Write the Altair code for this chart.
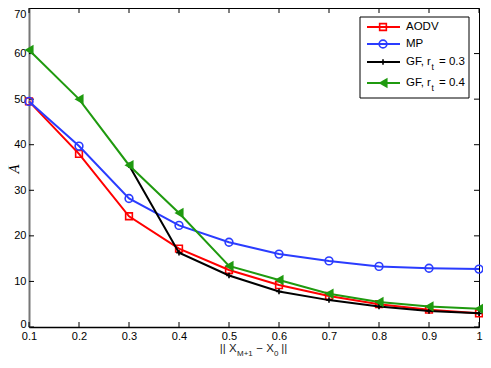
import altair as alt
import pandas as pd

x_vals = [0.1, 0.2, 0.3, 0.4, 0.5, 0.6, 0.7, 0.8, 0.9, 1.0]
aodv = [49.5, 38.0, 24.3, 17.2, 12.5, 9.2, 6.8, 5.0, 3.8, 3.0]
mp = [49.5, 39.7, 28.2, 22.3, 18.6, 16.0, 14.5, 13.3, 12.9, 12.7]
gf03_x = [0.3, 0.4, 0.5, 0.6, 0.7, 0.8, 0.9, 1.0]
gf03 = [35.5, 16.3, 11.3, 7.8, 5.9, 4.5, 3.5, 3.0]
gf04 = [60.8, 50.0, 35.5, 25.0, 13.4, 10.3, 7.3, 5.5, 4.5, 4.0]
y_ticks = [0, 10, 20, 30, 40, 50, 60, 70]

RED, BLUE, BLACK, GREEN = "#ff0000", "#2a3cff", "#000000", "#1f9a0f"
PLUS = "M-1,0H1M0,-1V1"
W, H = 450, 319
FONT = "Liberation Sans"

xs = alt.Scale(domain=[0.1, 1.0], nice=False, zero=False)
ys = alt.Scale(domain=[0, 70], nice=False)


def series(xv, yv, color, shape, filled, size):
    df = pd.DataFrame({"x": xv, "y": yv})
    base = alt.Chart(df)
    line = base.mark_line(color=color, strokeWidth=2, clip=False).encode(
        x=alt.X("x:Q", scale=xs), y=alt.Y("y:Q", scale=ys))
    pts = base.mark_point(shape=shape, filled=filled, color=color, size=size,
                          strokeWidth=1.6, opacity=1).encode(
        x=alt.X("x:Q", scale=xs), y=alt.Y("y:Q", scale=ys))
    return line + pts


xt = pd.DataFrame({"x": x_vals})
yt = pd.DataFrame({"y": y_ticks})

axes = alt.Chart(xt).mark_point(opacity=0).encode(
    x=alt.X("x:Q", scale=xs,
            axis=alt.Axis(values=x_vals, tickSize=0, labelPadding=3, grid=False,
                          labelFlush=False,
                          labelExpr="datum.value >= 0.99 ? '1' : format(datum.value, '.1f')",
                          title=None, domainColor="#000", domainWidth=1.5)),
    y=alt.value(0),
)
yaxis = alt.Chart(yt).mark_point(opacity=0).encode(
    y=alt.Y("y:Q", scale=ys,
            axis=alt.Axis(values=y_ticks, tickSize=0, labelPadding=3, grid=False,
                          labelFlush=False,
                          labelBaseline={"condition": [
                              {"test": "datum.value >= 70", "value": "top"},
                              {"test": "datum.value <= 0", "value": "alphabetic"}],
                              "value": "middle"},
                          title="Ā", titleFontStyle="italic", titleFont="DejaVu Serif",
                          titleFontSize=13, titleFontWeight="normal", titleAngle=-90,
                          titleX=-15, titleY=160, titleAlign="center", titleBaseline="middle",
                          domainColor="#777", domainWidth=2)),
    x=alt.value(0),
)

tb = alt.Chart(xt).mark_rule(color="black", strokeWidth=1).encode(
    x=alt.X("x:Q", scale=xs), y=alt.value(H), y2=alt.value(H - 5))
tt = alt.Chart(xt).mark_rule(color="black", strokeWidth=1).encode(
    x=alt.X("x:Q", scale=xs), y=alt.value(0), y2=alt.value(5))
tl = alt.Chart(yt).mark_rule(color="black", strokeWidth=1).encode(
    y=alt.Y("y:Q", scale=ys), x=alt.value(0), x2=alt.value(5))
tr = alt.Chart(yt).mark_rule(color="black", strokeWidth=1).encode(
    y=alt.Y("y:Q", scale=ys), x=alt.value(W), x2=alt.value(W - 5))

layers = [axes, yaxis, tb, tt, tl, tr,
          series(x_vals, aodv, RED, "square", False, 45),
          series(x_vals, mp, BLUE, "circle", False, 60),
          series(gf03_x, gf03, BLACK, PLUS, False, 30),
          series(x_vals, gf04, GREEN, "triangle-left", True, 110)]

# custom legend (positions relative to plot's top-right corner)
one = pd.DataFrame({"a": [0]})
lg = alt.Chart(one)
legend_box = lg.mark_rect(fill="white", stroke="black", strokeWidth=1).encode(
    x=alt.value(W - 119), x2=alt.value(W - 10), y=alt.value(9), y2=alt.value(90))
layers.append(legend_box)

entries = [("AODV", None, None, RED, "square", False, 45, 19),
           ("MP", None, None, BLUE, "circle", False, 60, 36),
           ("GF, r", "t", "= 0.3", BLACK, PLUS, False, 30, 54),
           ("GF, r", "t", "= 0.4", GREEN, "triangle-left", True, 110, 75)]
for lab, sub, rest, col, shp, fil, sz, py in entries:
    layers.append(lg.mark_rule(color=col, strokeWidth=2).encode(
        x=alt.value(W - 112), x2=alt.value(W - 79), y=alt.value(py)))
    layers.append(lg.mark_point(shape=shp, filled=fil, color=col, size=sz, strokeWidth=1.6,
                                opacity=1).encode(
        x=alt.value(W - 96), y=alt.value(py)))
    layers.append(lg.mark_text(text=lab, align="left", baseline="middle", font=FONT,
                               fontSize=11.5, color="black").encode(
        x=alt.value(W - 73), y=alt.value(py)))
    if sub:
        layers.append(lg.mark_text(text=sub, align="left", baseline="middle", font=FONT,
                                   fontSize=8.5, color="black").encode(
            x=alt.value(W - 47.5), y=alt.value(py + 5)))
        layers.append(lg.mark_text(text=rest, align="left", baseline="middle", font=FONT,
                                   fontSize=11.5, color="black").encode(
            x=alt.value(W - 40), y=alt.value(py)))

# x-axis title with subscripts
TY = H + 22
S = W / 2 - 34.2
parts = [("|| X", 11.5, 0, 0), ("M+1", 8, 4.5, 17.2), ("−", 11.5, 0, 36.5),
         ("X", 11.5, 0, 46.4), ("0", 8, 4.5, 54.1), ("||", 11.5, 0, 61.5)]
for txt, fs, dy, px in parts:
    layers.append(lg.mark_text(text=txt, align="left", baseline="middle", font=FONT,
                               fontSize=fs, color="#222").encode(
        x=alt.value(S + px), y=alt.value(TY + dy)))

chart = alt.layer(*layers).properties(
    width=W, height=H,
    autosize=alt.AutoSizeParams(type="none"),
    padding={"left": 21, "top": 0, "right": 4, "bottom": 33},
).configure_view(stroke="black", strokeWidth=1).configure_axis(
    labelFont=FONT, labelFontSize=11, labelColor="#000", titleColor="#000", ticks=False
)

chart.save("out.html", embed_options={"renderer": "svg", "actions": False})
